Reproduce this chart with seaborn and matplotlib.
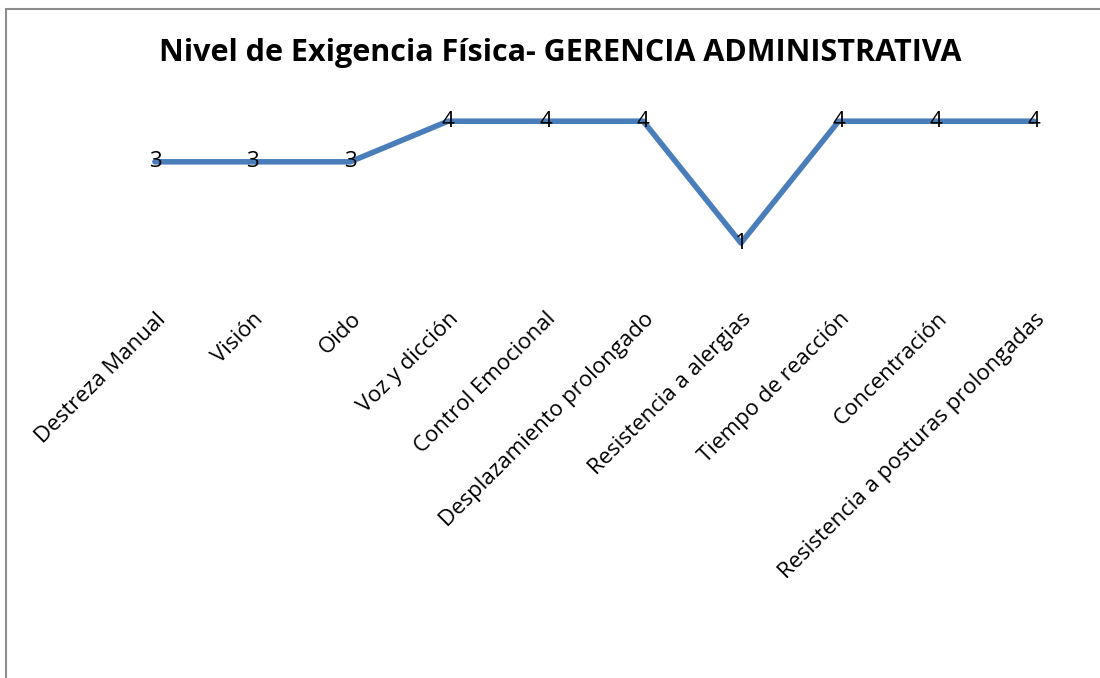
import pandas as pd
import seaborn as sns
import matplotlib.pyplot as plt
from matplotlib.patches import Rectangle

# categories and levels
categorias = ['Destreza Manual', 'Visión', 'Oido', 'Voz y dicción', 'Control Emocional',
              'Desplazamiento prolongado', 'Resistencia a alergias', 'Tiempo de reacción',
              'Concentración', 'Resistencia a posturas prolongadas']
niveles = [3, 3, 3, 4, 4, 4, 1, 4, 4, 4]
titulo = 'Nivel de Exigencia Física- GERENCIA ADMINISTRATIVA'

df = pd.DataFrame({'categoria': categorias, 'nivel': niveles})
df['pos'] = range(len(df))

sns.set_style('white')
plt.rcParams['font.family'] = ['Open Sans', 'DejaVu Sans']

fig = plt.figure(figsize=(11, 6.78), dpi=100)
ax = fig.add_axes([0.0964, 0.5817, 0.888, 0.2994])

sns.lineplot(data=df, x='pos', y='nivel', ax=ax, color='#4A7EBB', linewidth=4,
             sort=False, legend=False)

# data labels centred on the points
for _, row in df.iterrows():
    ax.text(row['pos'], row['nivel'], str(row['nivel']), ha='center', va='center',
            fontsize=16, color='black', zorder=5)

ax.set_xlim(-0.5, len(df) - 0.5)
ax.set_ylim(0, 5)
ax.set_xticks(df['pos'])
ax.set_xticklabels(df['categoria'], rotation=45, ha='right', rotation_mode='anchor',
                   fontsize=16, color='black')
ax.tick_params(axis='x', length=0, pad=18)
ax.set_yticks([])
ax.set_xlabel('')
ax.set_ylabel('')
sns.despine(ax=ax, left=True, bottom=True)

fig.text(0.509, 0.922, titulo, ha='center', va='center', fontsize=22, fontweight='bold',
         color='black')

# chart frame, only top and left edge fall inside the image
fig.patches.append(Rectangle((6 / 1100, -0.1), 1.2, 1 - 9 / 678 + 0.1, transform=fig.transFigure,
                             fill=False, edgecolor='#8C8C8C', linewidth=1.5))

fig.savefig('out.png', dpi=100)
